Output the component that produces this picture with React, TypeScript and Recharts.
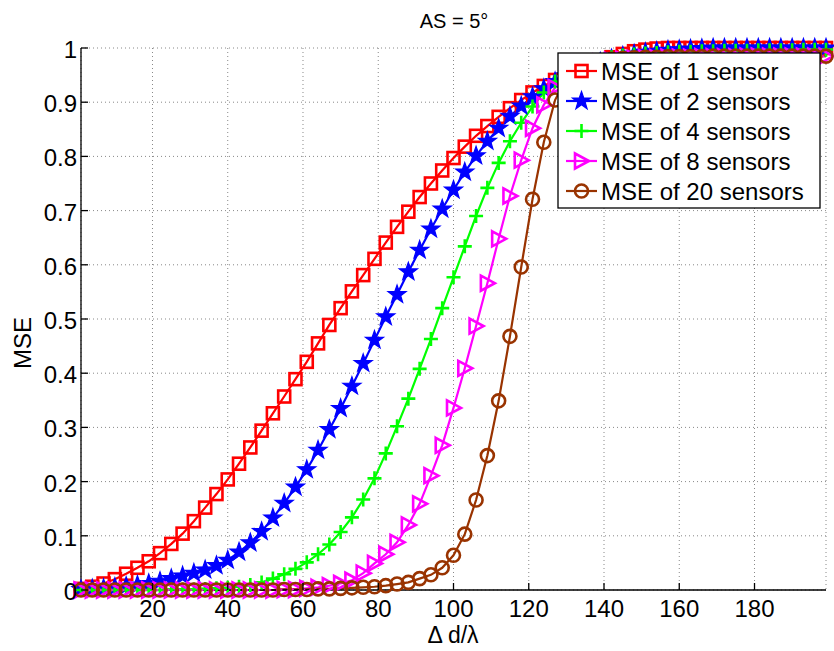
import React from 'react';
import { LineChart, Line, XAxis, YAxis, CartesianGrid } from 'recharts';

const XS = [
  1, 4, 7, 10, 13, 16, 19, 22, 25, 28, 31, 34, 37, 40, 43, 46, 49, 52, 55, 58,
  61, 64, 67, 70, 73, 76, 79, 82, 85, 88, 91, 94, 97, 100, 103, 106, 109, 112, 115, 118,
  121, 124, 127, 130, 133, 136, 139, 142, 145, 148, 151, 154, 157, 160, 163, 166, 169, 172, 175, 178,
  181, 184, 187, 190, 193, 196, 199,
];

const MSE_1 = [
  0.002, 0.006, 0.012, 0.02, 0.03, 0.041, 0.053, 0.068, 0.085, 0.104, 0.127, 0.152, 0.177, 0.204, 0.233, 0.263, 0.294, 0.326, 0.357, 0.389,
  0.421, 0.455, 0.489, 0.52, 0.551, 0.581, 0.611, 0.641, 0.67, 0.698, 0.725, 0.75, 0.774, 0.797, 0.818, 0.838, 0.856, 0.873, 0.889, 0.904,
  0.918, 0.93, 0.941, 0.951, 0.96, 0.968, 0.976, 0.983, 0.989, 0.994, 0.997, 0.999, 1, 1, 1, 1, 1, 1, 1, 1,
  1, 1, 1, 1, 1, 1, 1,
];

const MSE_2 = [
  0.001, 0.002, 0.003, 0.005, 0.007, 0.009, 0.012, 0.016, 0.021, 0.026, 0.031, 0.037, 0.045, 0.055, 0.07, 0.087, 0.108, 0.133, 0.16, 0.19,
  0.222, 0.258, 0.296, 0.335, 0.376, 0.418, 0.461, 0.504, 0.545, 0.587, 0.627, 0.666, 0.703, 0.738, 0.771, 0.801, 0.828, 0.852, 0.874, 0.893,
  0.91, 0.925, 0.938, 0.949, 0.959, 0.967, 0.974, 0.98, 0.985, 0.989, 0.992, 0.994, 0.996, 0.997, 0.998, 0.999, 1, 1, 1, 1,
  1, 1, 1, 1, 1, 1, 1,
];

const MSE_4 = [
  0, 0, 0, 0, 0, 0, 0, 0, 0.001, 0.001, 0.001, 0.002, 0.003, 0.004, 0.006, 0.009, 0.014, 0.021, 0.029, 0.039,
  0.051, 0.066, 0.084, 0.107, 0.134, 0.167, 0.206, 0.252, 0.302, 0.353, 0.408, 0.463, 0.52, 0.577, 0.634, 0.69, 0.742, 0.788, 0.828, 0.862,
  0.892, 0.918, 0.938, 0.953, 0.964, 0.972, 0.978, 0.983, 0.986, 0.988, 0.99, 0.991, 0.992, 0.993, 0.993, 0.994, 0.994, 0.995, 0.995, 0.995,
  0.996, 0.996, 0.996, 0.996, 0.997, 0.997, 0.997,
];

const MSE_8 = [
  0, 0, 0, 0, 0, 0, 0, 0, 0, 0, 0, 0, 0, 0, 0, 0, 0, 0, 0.001, 0.001,
  0.003, 0.005, 0.008, 0.012, 0.018, 0.031, 0.049, 0.066, 0.088, 0.12, 0.159, 0.211, 0.267, 0.336, 0.409, 0.487, 0.566, 0.648, 0.727, 0.793,
  0.852, 0.895, 0.927, 0.948, 0.961, 0.969, 0.974, 0.977, 0.979, 0.981, 0.982, 0.982, 0.983, 0.983, 0.983, 0.984, 0.984, 0.984, 0.984, 0.985,
  0.985, 0.985, 0.985, 0.985, 0.985, 0.985, 0.985,
];

const MSE_20 = [
  0, 0, 0, 0, 0, 0, 0, 0, 0, 0, 0, 0, 0, 0, 0, 0, 0, 0, 0.001, 0.001,
  0.001, 0.002, 0.002, 0.003, 0.004, 0.005, 0.006, 0.008, 0.011, 0.014, 0.021, 0.028, 0.041, 0.064, 0.103, 0.166, 0.248, 0.349, 0.468, 0.596,
  0.721, 0.826, 0.904, 0.944, 0.962, 0.971, 0.976, 0.979, 0.981, 0.982, 0.983, 0.983, 0.984, 0.984, 0.984, 0.984, 0.985, 0.985, 0.985, 0.985,
  0.985, 0.985, 0.985, 0.985, 0.985, 0.985, 0.985,
];

const X_TICKS = [20, 40, 60, 80, 100, 120, 140, 160, 180];
const Y_TICKS = [0, 0.1, 0.2, 0.3, 0.4, 0.5, 0.6, 0.7, 0.8, 0.9, 1];

const SERIES = [
  { key: 's1', name: 'MSE of 1 sensor', color: '#FF0000', marker: 'square', values: MSE_1 },
  { key: 's2', name: 'MSE of 2 sensors', color: '#0000FF', marker: 'star', values: MSE_2 },
  { key: 's4', name: 'MSE of 4 sensors', color: '#00FF00', marker: 'plus', values: MSE_4 },
  { key: 's8', name: 'MSE of 8 sensors', color: '#FF00FF', marker: 'tri', values: MSE_8 },
  { key: 's20', name: 'MSE of 20 sensors', color: '#993300', marker: 'circle', values: MSE_20 },
];

const data = XS.map((x, i) => {
  const row: Record<string, number> = { x };
  SERIES.forEach((s) => { row[s.key] = s.values[i]; });
  return row;
});

const FONT = '"Liberation Sans", Arial, Helvetica, sans-serif';

function starPoints(cx: number, cy: number, r: number) {
  const pts: string[] = [];
  for (let k = 0; k < 10; k++) {
    const a = (-90 + k * 36) * Math.PI / 180;
    const rr = k % 2 === 0 ? r : r * 0.4;
    pts.push(`${cx + rr * Math.cos(a)},${cy + rr * Math.sin(a)}`);
  }
  return pts.join(' ');
}

function Marker({ type, cx, cy, color }: { type: string; cx: number; cy: number; color: string }) {
  const sw = 2.6;
  switch (type) {
    case 'square':
      return <rect x={cx - 6} y={cy - 6} width={12} height={12} fill="none" stroke={color} strokeWidth={sw} />;
    case 'star':
      return <polygon points={starPoints(cx, cy, 9.5)} fill={color} stroke={color} strokeWidth={1.2} />;
    case 'plus':
      return <path d={`M${cx - 7},${cy}H${cx + 7}M${cx},${cy - 7}V${cy + 7}`} stroke={color} strokeWidth={sw} fill="none" />;
    case 'tri':
      return <polygon points={`${cx - 6.5},${cy - 7.5} ${cx + 7.5},${cy} ${cx - 6.5},${cy + 7.5}`} fill="none" stroke={color} strokeWidth={sw} />;
    default:
      return <circle cx={cx} cy={cy} r={6.5} fill="none" stroke={color} strokeWidth={sw} />;
  }
}

const BottomTick = (p: any) => (
  <g>
    <line x1={p.x} x2={p.x} y1={p.y} y2={p.y - 7} stroke="#000" strokeWidth={1.3} />
    <text x={p.x} y={p.y + 27} textAnchor="middle" fontSize={24} fontFamily={FONT} fill="#000">{p.payload.value}</text>
  </g>
);

const TopTick = (p: any) => (
  <line x1={p.x} x2={p.x} y1={p.y} y2={p.y + 7} stroke="#000" strokeWidth={1.3} />
);

const LeftTick = (p: any) => (
  <g>
    <line x1={p.x} x2={p.x + 7} y1={p.y} y2={p.y} stroke="#000" strokeWidth={1.3} />
    <text x={p.x - 4} y={p.y + 10} textAnchor="end" fontSize={24} fontFamily={FONT} fill="#000">
      {String(Math.round(p.payload.value * 10) / 10)}
    </text>
  </g>
);

const RightTick = (p: any) => (
  <line x1={p.x} x2={p.x - 7} y1={p.y} y2={p.y} stroke="#000" strokeWidth={1.3} />
);

const LEGEND_BASELINES = [80, 110, 140, 170, 200];

export default function App() {
  return (
    <div style={{ position: 'absolute', left: 0, top: 0, width: 834, height: 651, background: '#fff', fontFamily: FONT }}>
      <LineChart width={834} height={651} data={data} margin={{ top: 48, right: 8, bottom: 0, left: 0 }}>
        <CartesianGrid xAxisId="b" yAxisId="l" stroke="#888" strokeDasharray="1 3" />
        <XAxis xAxisId="b" dataKey="x" type="number" domain={[1, 199]} ticks={X_TICKS} height={61}
          tickLine={false} tickSize={0} tickMargin={0} axisLine={{ stroke: '#000', strokeWidth: 1.3 }} tick={BottomTick} />
        <XAxis xAxisId="t" dataKey="x" type="number" orientation="top" domain={[1, 199]} ticks={X_TICKS} height={0}
          tickLine={false} tickSize={0} tickMargin={0} axisLine={{ stroke: '#000', strokeWidth: 1.3 }} tick={TopTick} />
        <YAxis yAxisId="l" type="number" domain={[0, 1]} ticks={Y_TICKS} width={81}
          tickLine={false} tickSize={0} tickMargin={0} axisLine={{ stroke: '#000', strokeWidth: 1.3 }} tick={LeftTick} />
        <YAxis yAxisId="r" type="number" orientation="right" domain={[0, 1]} ticks={Y_TICKS} width={0}
          tickLine={false} tickSize={0} tickMargin={0} axisLine={{ stroke: '#000', strokeWidth: 1.3 }} tick={RightTick} />
        {SERIES.map((s) => (
          <Line
            key={s.key}
            xAxisId="b"
            yAxisId="l"
            type="linear"
            dataKey={s.key}
            stroke={s.color}
            strokeWidth={2.2}
            isAnimationActive={false}
            dot={(p: any) => <Marker key={`${s.key}-${p.index}`} type={s.marker} cx={p.cx} cy={p.cy} color={s.color} />}
            activeDot={false}
          />
        ))}
      </LineChart>
      <svg width={834} height={651} style={{ position: 'absolute', left: 0, top: 0, pointerEvents: 'none' }}>
        <text x={454} y={28} textAnchor="middle" fontSize={20} fontFamily={FONT} fill="#000">AS = 5°</text>
        <text x={453} y={643} textAnchor="middle" fontSize={23} fontFamily={FONT} fill="#000">Δ d/λ</text>
        <text transform="translate(31,343) rotate(-90)" textAnchor="middle" fontSize={24} fontFamily={FONT} fill="#000">MSE</text>
        <rect x={558} y={53} width={262} height={155} fill="#fff" stroke="#000" strokeWidth={1.3} />
        {SERIES.map((s, i) => {
          const cy = LEGEND_BASELINES[i] - 9;
          return (
            <g key={s.key}>
              <line x1={566} x2={597} y1={cy} y2={cy} stroke={s.color} strokeWidth={2.2} />
              <Marker type={s.marker} cx={581.5} cy={cy} color={s.color} />
              <text x={601} y={LEGEND_BASELINES[i]} fontSize={24} fontFamily={FONT} fill="#000">{s.name}</text>
            </g>
          );
        })}
      </svg>
    </div>
  );
}
